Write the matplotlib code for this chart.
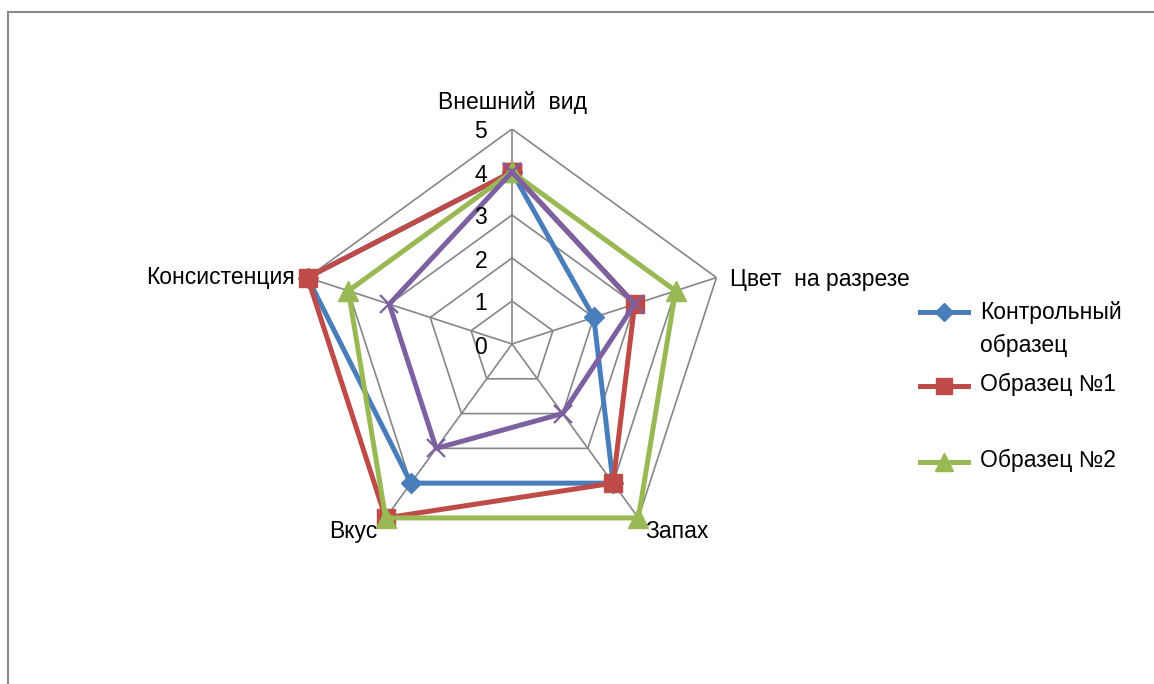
import numpy as np
import matplotlib.pyplot as plt
from matplotlib.lines import Line2D
from matplotlib.patches import Rectangle

categories = ["Внешний  вид", "Цвет  на разрезе", "Запах", "Вкус", "Консистенция"]
control = [4, 2, 4, 4, 5]
sample_1 = [4, 3, 4, 5, 5]
sample_2 = [4, 4, 5, 5, 4]
sample_3 = [4, 3, 2, 3, 3]
r_ticks = [0, 1, 2, 3, 4, 5]

series = [
    ("Контрольный\nобразец", control, "#4A7EBB", "D", 10),
    ("Образец №1", sample_1, "#BE4B48", "s", 13),
    ("Образец №2", sample_2, "#98B954", "^", 14),
    ("Образец №3", sample_3, "#7D60A0", "x", 13),
]

plt.rcParams["font.family"] = ["Liberation Sans", "DejaVu Sans"]
grid_color = "#868686"
font_size = 16.5
W, H = 1154, 684

fig = plt.figure(figsize=(W / 100, H / 100), dpi=100, facecolor="white")

# outer chart frame (cut off at right and bottom)
fig.add_artist(Rectangle((8 / W, -0.05), 1.2, 1 - 12 / H + 0.05,
                         transform=fig.transFigure, fill=False,
                         edgecolor="#878787", linewidth=1.5))

cx, cy, rad = 512, 344, 215
ax = fig.add_axes([(cx - rad) / W, (H - cy - rad) / H, 2 * rad / W, 2 * rad / H],
                  projection="polar")
ax.set_theta_offset(np.pi / 2)
ax.set_theta_direction(-1)
ax.set_ylim(0, 5)
ax.grid(False)
ax.spines["polar"].set_visible(False)
ax.set_xticks([])
ax.set_yticks([])
ax.patch.set_visible(False)

n = len(categories)
angles = np.linspace(0, 2 * np.pi, n, endpoint=False)
closed = np.append(angles, angles[0])

for r in r_ticks[1:]:
    ax.plot(closed, [r] * (n + 1), color=grid_color, lw=1.2, zorder=1)
for a in angles:
    ax.plot([a, a], [0, 5], color=grid_color, lw=1.2, zorder=1)

for label, vals, color, marker, ms in series:
    v = np.append(vals, vals[0])
    if marker == "x":
        ax.plot(closed, v, color=color, lw=3.6, marker=marker, ms=ms,
                mew=1.6, zorder=3, clip_on=False)
    else:
        ax.plot(closed, v, color=color, lw=3.6, marker=marker, ms=ms,
                mec=color, zorder=3, clip_on=False)

for r in r_ticks:
    ax.annotate(str(r), (0, r), xytext=(-25, -3), textcoords="offset pixels",
                ha="right", va="center", fontsize=font_size, color="black")

label_offsets = [(0, 26, "center"), (14, -2, "left"), (7, -14, "left"),
                 (-8, -14, "right"), (-13, 0, "right")]
for a, name, (dx, dy, ha) in zip(angles, categories, label_offsets):
    ax.annotate(name, (a, 5), xytext=(dx, dy), textcoords="offset pixels",
                ha=ha, va="center", fontsize=font_size, color="black")

# legend (only first three series shown)
lax = fig.add_axes([0, 0, 1, 1])
lax.set_xlim(0, W)
lax.set_ylim(H, 0)
lax.axis("off")
legend_rows = [312, 386, 462]
for (label, vals, color, marker, ms), y in zip(series[:3], legend_rows):
    lax.add_line(Line2D([920, 968], [y, y], color=color, lw=3.6))
    lax.add_line(Line2D([944], [y], color=color, marker=marker, ms=ms * 0.9, mec=color))
    lax.text(980, y - 2, label, ha="left", va="top" if "\n" in label else "center",
             fontsize=font_size, linespacing=1.55)
lax.texts[0].set_y(312 - 11)

fig.savefig("out.png", dpi=100)
